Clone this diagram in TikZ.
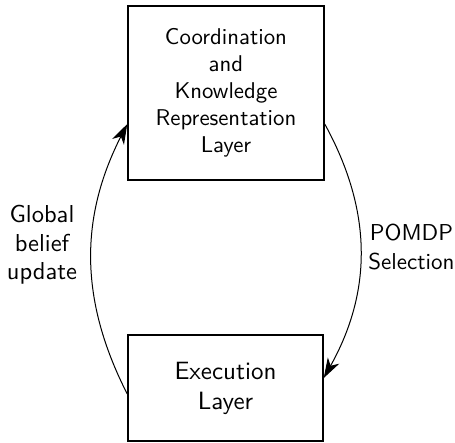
\documentclass[tikz,border=0pt]{standalone}
\usepackage{fontspec}
\setsansfont{lmsans10-regular.otf}
\usetikzlibrary{arrows.meta}
\begin{document}
\begin{tikzpicture}[x=1pt,y=-1pt,
  layerbox/.style={draw,line width=1.5pt,inner sep=0pt,align=center,font=\sffamily\fontsize{22.8}{27}\selectfont},
  lbl/.style={align=center,font=\sffamily\fontsize{23.5}{28.5}\selectfont},
  flow/.style={line width=1pt,-{Stealth[length=20pt,width=13pt,inset=6pt]}}]
\useasboundingbox (0,0) rectangle (455,442);
\node[layerbox,minimum width=196pt,minimum height=174pt] (top) at (226,93) {Coordination\\and\\Knowledge\\Representation\\Layer};
\node[layerbox,minimum width=195pt,minimum height=106pt,font=\sffamily\fontsize{25}{30}\selectfont] (bot) at (225.5,388) {Execution\\Layer};
\coordinate (bl) at (bot.west |- 0,394);
\coordinate (tl) at (top.west |- 0,124);
\coordinate (tr) at (top.east |- 0,124);
\coordinate (br) at (bot.east |- 0,378);
\draw[flow] (bl) to[bend left=27] (tl);
\draw[flow] (tr) to[bend left=29] (br);
\node[lbl,font=\sffamily\fontsize{24.5}{28.5}\selectfont] (gl) at (42,245) {Global\\belief\\update};
\node[lbl,font=\sffamily\fontsize{23}{28.5}\selectfont] (ps) at (411.5,247) {POMDP\\Selection};
\end{tikzpicture}
\end{document}
